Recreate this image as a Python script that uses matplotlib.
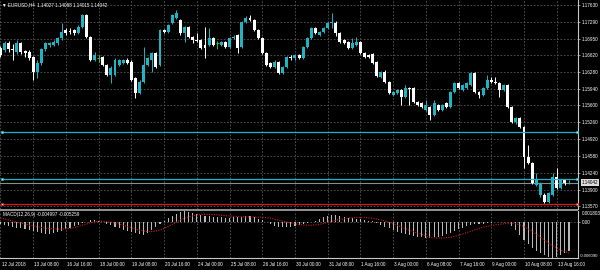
import matplotlib
matplotlib.use('Agg')
import matplotlib.pyplot as plt
from matplotlib.patches import Rectangle
import numpy as np

plt.rcParams['font.family'] = ['Liberation Sans', 'DejaVu Sans']

#chart header texts
symbol_info = 'EURUSD,H4  1.14027 1.14088 1.14015 1.14042'
macd_info = 'MACD(12,26,9) -0.004997 -0.005259'

#H4 candles, 12 Jul 2018 00:00 onwards
opens = [1.1676, 1.1672, 1.1686, 1.1674, 1.1668, 1.1686, 1.1670, 1.1668, 1.1658, 1.1628,
         1.1646, 1.1674, 1.1682, 1.1682, 1.1686, 1.1696, 1.1712, 1.1710, 1.1712, 1.1706,
         1.1718, 1.1743, 1.1698, 1.1652, 1.1656, 1.1658, 1.1642, 1.1622, 1.1622, 1.1642,
         1.1646, 1.1652, 1.1648, 1.1615, 1.1585, 1.1607, 1.1642, 1.1652, 1.1666, 1.1642,
         1.1712, 1.1708, 1.1727, 1.1737, 1.1733, 1.1706, 1.1718, 1.1698, 1.1692, 1.1692,
         1.1682, 1.1682, 1.1696, 1.1686, 1.1682, 1.1688, 1.1678, 1.1696, 1.1702, 1.1678,
         1.1729, 1.1737, 1.1733, 1.1712, 1.1696, 1.1666, 1.1646, 1.1638, 1.1648, 1.1626,
         1.1638, 1.1658, 1.1656, 1.1662, 1.1656, 1.1678, 1.1696, 1.1716, 1.1702, 1.1708,
         1.1716, 1.1727, 1.1727, 1.1706, 1.1692, 1.1688, 1.1676, 1.1682, 1.1688, 1.1666,
         1.1662, 1.1664, 1.1648, 1.1617, 1.1628, 1.1607, 1.1581, 1.1585, 1.1591, 1.1577,
         1.1595, 1.1595, 1.1567, 1.1565, 1.1551, 1.1557, 1.1541, 1.1561, 1.1551, 1.1565,
         1.1557, 1.1587, 1.1605, 1.1591, 1.1595, 1.1601, 1.1626, 1.1587, 1.1581, 1.1595,
         1.1611, 1.1607, 1.1605, 1.1591, 1.1601, 1.1557, 1.1527, 1.1535, 1.1516, 1.1456,
         1.1444, 1.1399, 1.1379, 1.1379, 1.1365, 1.1379, 1.1415, 1.1393, 1.1409, 1.14027]
highs = [1.1680, 1.1690, 1.1690, 1.1684, 1.1692, 1.1688, 1.1672, 1.1672, 1.1660, 1.1652,
         1.1676, 1.1688, 1.1688, 1.1692, 1.1698, 1.1727, 1.1716, 1.1716, 1.1714, 1.1723,
         1.1745, 1.1745, 1.1700, 1.1668, 1.1662, 1.1660, 1.1644, 1.1640, 1.1656, 1.1654,
         1.1654, 1.1656, 1.1652, 1.1617, 1.1611, 1.1678, 1.1658, 1.1668, 1.1668, 1.1714,
         1.1714, 1.1725, 1.1745, 1.1753, 1.1735, 1.1720, 1.1720, 1.1700, 1.1706, 1.1694,
         1.1718, 1.1716, 1.1698, 1.1690, 1.1690, 1.1690, 1.1698, 1.1702, 1.1704, 1.1731,
         1.1741, 1.1743, 1.1735, 1.1714, 1.1698, 1.1668, 1.1648, 1.1652, 1.1650, 1.1640,
         1.1660, 1.1662, 1.1664, 1.1664, 1.1680, 1.1698, 1.1718, 1.1718, 1.1710, 1.1718,
         1.1729, 1.1747, 1.1731, 1.1708, 1.1694, 1.1690, 1.1696, 1.1698, 1.1690, 1.1668,
         1.1664, 1.1666, 1.1650, 1.1630, 1.1632, 1.1609, 1.1589, 1.1593, 1.1593, 1.1601,
         1.1597, 1.1597, 1.1569, 1.1567, 1.1571, 1.1559, 1.1571, 1.1563, 1.1563, 1.1567,
         1.1589, 1.1607, 1.1607, 1.1603, 1.1607, 1.1628, 1.1628, 1.1589, 1.1597, 1.1622,
         1.1617, 1.1617, 1.1607, 1.1603, 1.1603, 1.1559, 1.1537, 1.1537, 1.1518, 1.1480,
         1.1446, 1.1424, 1.1405, 1.1383, 1.1385, 1.1424, 1.1434, 1.1411, 1.1411, 1.14088]
lows = [1.1658, 1.1668, 1.1668, 1.1652, 1.1664, 1.1664, 1.1658, 1.1652, 1.1611, 1.1615,
        1.1642, 1.1670, 1.1678, 1.1680, 1.1682, 1.1692, 1.1702, 1.1704, 1.1702, 1.1704,
        1.1716, 1.1696, 1.1650, 1.1650, 1.1648, 1.1640, 1.1619, 1.1605, 1.1619, 1.1640,
        1.1644, 1.1644, 1.1609, 1.1575, 1.1583, 1.1605, 1.1640, 1.1628, 1.1636, 1.1640,
        1.1706, 1.1706, 1.1725, 1.1735, 1.1702, 1.1688, 1.1696, 1.1686, 1.1688, 1.1674,
        1.1656, 1.1680, 1.1680, 1.1674, 1.1680, 1.1676, 1.1676, 1.1694, 1.1666, 1.1676,
        1.1727, 1.1731, 1.1710, 1.1694, 1.1664, 1.1640, 1.1636, 1.1636, 1.1624, 1.1624,
        1.1636, 1.1652, 1.1652, 1.1654, 1.1654, 1.1676, 1.1694, 1.1704, 1.1700, 1.1706,
        1.1714, 1.1716, 1.1700, 1.1686, 1.1684, 1.1674, 1.1674, 1.1680, 1.1664, 1.1656,
        1.1656, 1.1644, 1.1617, 1.1615, 1.1605, 1.1583, 1.1579, 1.1583, 1.1561, 1.1575,
        1.1561, 1.1565, 1.1559, 1.1555, 1.1549, 1.1531, 1.1539, 1.1549, 1.1549, 1.1555,
        1.1555, 1.1585, 1.1593, 1.1589, 1.1593, 1.1599, 1.1585, 1.1575, 1.1579, 1.1593,
        1.1605, 1.1603, 1.1577, 1.1589, 1.1555, 1.1525, 1.1523, 1.1514, 1.1434, 1.1442,
        1.1401, 1.1397, 1.1375, 1.1363, 1.1363, 1.1377, 1.1391, 1.1391, 1.1399, 1.14015]
closes = [1.1662, 1.1686, 1.1674, 1.1672, 1.1686, 1.1668, 1.1666, 1.1656, 1.1628, 1.1646,
          1.1674, 1.1686, 1.1686, 1.1688, 1.1696, 1.1708, 1.1706, 1.1708, 1.1706, 1.1718,
          1.1743, 1.1698, 1.1652, 1.1662, 1.1656, 1.1642, 1.1622, 1.1636, 1.1652, 1.1652,
          1.1652, 1.1646, 1.1611, 1.1585, 1.1607, 1.1642, 1.1656, 1.1666, 1.1638, 1.1712,
          1.1708, 1.1723, 1.1743, 1.1747, 1.1706, 1.1718, 1.1698, 1.1692, 1.1690, 1.1676,
          1.1676, 1.1696, 1.1682, 1.1686, 1.1688, 1.1678, 1.1696, 1.1698, 1.1676, 1.1729,
          1.1737, 1.1733, 1.1712, 1.1696, 1.1666, 1.1642, 1.1638, 1.1648, 1.1626, 1.1638,
          1.1658, 1.1656, 1.1662, 1.1656, 1.1678, 1.1696, 1.1716, 1.1706, 1.1708, 1.1716,
          1.1727, 1.1729, 1.1706, 1.1688, 1.1686, 1.1676, 1.1686, 1.1688, 1.1666, 1.1658,
          1.1658, 1.1646, 1.1619, 1.1628, 1.1607, 1.1585, 1.1587, 1.1591, 1.1577, 1.1595,
          1.1593, 1.1567, 1.1561, 1.1557, 1.1561, 1.1541, 1.1565, 1.1551, 1.1561, 1.1557,
          1.1587, 1.1605, 1.1595, 1.1601, 1.1605, 1.1626, 1.1587, 1.1581, 1.1595, 1.1611,
          1.1607, 1.1605, 1.1591, 1.1601, 1.1557, 1.1527, 1.1535, 1.1516, 1.1456, 1.1444,
          1.1403, 1.1411, 1.1403, 1.1365, 1.1383, 1.1415, 1.1393, 1.1409, 1.1403, 1.14042]

#MACD main (histogram) and signal (dotted)
macd_main = [-0.00039, -0.00055, -0.00072, -0.00089, -0.00097, -0.00106, -0.00123, -0.00139, -0.00156, -0.00173,
             -0.00190, -0.00198, -0.00198, -0.00190, -0.00173, -0.00148, -0.00123, -0.00097, -0.00072, -0.00047,
             -0.00022, 0.00003, 0.00029, 0.00037, 0.00020, -0.00005, -0.00030, -0.00055, -0.00081, -0.00106,
             -0.00131, -0.00156, -0.00173, -0.00190, -0.00207, -0.00215, -0.00190, -0.00139, -0.00089, -0.00030,
             0.00012, 0.00062, 0.00096, 0.00129, 0.00163, 0.001803, 0.00171, 0.00155, 0.00138, 0.00121,
             0.00104, 0.00096, 0.00087, 0.00079, 0.00079, 0.00071, 0.00071, 0.00079, 0.00079, 0.00087,
             0.00096, 0.00096, 0.00079, 0.00054, 0.00029, -0.00005, -0.00039, -0.00064, -0.00081, -0.00089,
             -0.00089, -0.00081, -0.00072, -0.00055, -0.00039, -0.00027, -0.00010, 0.00007, 0.00040, 0.00074,
             0.00096, 0.00113, 0.00113, 0.00101, 0.00084, 0.00067, 0.00057, 0.00045, 0.00040, 0.00029,
             0.00017, 0.00007, -0.00017, -0.00055, -0.00084, -0.00111, -0.00139, -0.00168, -0.00195, -0.00212,
             -0.00223, -0.00240, -0.00252, -0.00262, -0.00269, -0.00269, -0.00262, -0.00252, -0.00235, -0.00212,
             -0.00185, -0.00156, -0.00128, -0.00101, -0.00072, -0.00055, -0.00044, -0.00039, -0.00039, -0.00027,
             -0.00017, -0.00010, -0.00005, -0.00005, -0.00010, -0.00072, -0.00139, -0.00223, -0.00307, -0.00375,
             -0.00433, -0.00484, -0.00526, -0.00559, -0.00593, -0.00609, -0.00585, -0.00551, -0.00517, -0.004997]
macd_signal = [0.00062, 0.00045, 0.00029, 0.00012, -0.00005, -0.00022, -0.00039, -0.00055, -0.00072, -0.00086,
               -0.00097, -0.00106, -0.00114, -0.00119, -0.00123, -0.00123, -0.00119, -0.00111, -0.00097, -0.00081,
               -0.00060, -0.00039, -0.00018, -0.00002, 0.00007, 0.00008, 0.00003, -0.00008, -0.00022, -0.00039,
               -0.00060, -0.00081, -0.00102, -0.00123, -0.00139, -0.00156, -0.00165, -0.00165, -0.00156, -0.00139,
               -0.00114, -0.00081, -0.00044, -0.00005, 0.00029, 0.00059, 0.00082, 0.00099, 0.00113, 0.00121,
               0.00124, 0.00124, 0.00121, 0.00116, 0.00109, 0.00102, 0.00096, 0.00091, 0.00086, 0.00082,
               0.00081, 0.00079, 0.00079, 0.00079, 0.00076, 0.00069, 0.00059, 0.00045, 0.00029, 0.00012,
               -0.00005, -0.00022, -0.00035, -0.00047, -0.00055, -0.00059, -0.00059, -0.00054, -0.00044, -0.00029,
               -0.00012, 0.00007, 0.00024, 0.00039, 0.00050, 0.00059, 0.00066, 0.00071, 0.00072, 0.00071,
               0.00066, 0.00057, 0.00045, 0.00030, 0.00012, -0.00010, -0.00035, -0.00062, -0.00089, -0.00116,
               -0.00143, -0.00168, -0.00190, -0.00210, -0.00240, -0.00257, -0.00269, -0.00274, -0.00274, -0.00269,
               -0.00260, -0.00245, -0.00227, -0.00207, -0.00183, -0.00160, -0.00136, -0.00114, -0.00094, -0.00077,
               -0.00064, -0.00052, -0.00042, -0.00034, -0.00027, -0.00027, -0.00034, -0.00052, -0.00081, -0.00118,
               -0.00160, -0.00207, -0.00257, -0.00307, -0.00358, -0.00403, -0.00442, -0.00475, -0.00502, -0.005259]

price_ticks = [1.17630, 1.17290, 1.16950, 1.16620, 1.16280, 1.15940, 1.15600,
               1.15260, 1.14920, 1.14580, 1.14240, 1.13900, 1.13570]
time_labels = ['12 Jul 2018', '13 Jul 08:00', '16 Jul 16:00', '18 Jul 00:00', '19 Jul 08:00',
               '20 Jul 16:00', '24 Jul 00:00', '25 Jul 08:00', '26 Jul 16:00', '30 Jul 00:00',
               '31 Jul 08:00', '1 Aug 16:00', '3 Aug 00:00', '6 Aug 08:00', '7 Aug 16:00',
               '9 Aug 00:00', '10 Aug 08:00', '13 Aug 16:00']
cyan_levels = [1.1506, 1.1411]
red_level = 1.1362
bid_price = 1.14042
macd_max, macd_min = 0.001803, -0.006090

bull_col = '#1fb4c4'
bear_col = '#ffffff'
doji_col = '#22c83a'
grid_col = '#585858'
axis_col = '#c8c8c8'
fs = 3.3

W, H = 600.0, 270.0
fig = plt.figure(figsize=(6, 2.7), dpi=100, facecolor='black')
ax = fig.add_axes([0, 1 - 209 / H, 578 / W, 209 / H], facecolor='black')
ax2 = fig.add_axes([0, 1 - 258 / H, 578 / W, 47 / H], facecolor='black')

bars = np.arange(len(closes))
for a in (ax, ax2):
	a.set_xlim(-0.12, 141.2)
	for s in a.spines.values():
		s.set_visible(False)
	a.spines['right'].set_visible(True)
	a.spines['right'].set_color(axis_col)
	a.spines['right'].set_linewidth(0.8)
	a.set_xticks(bars[::8])
	a.tick_params(axis='x', length=0, labelbottom=False)
	a.yaxis.tick_right()
	a.tick_params(axis='y', colors=axis_col, labelcolor='white', labelsize=fs, length=1.5, width=0.5, pad=1.5)
	a.grid(True, color=grid_col, lw=0.6, linestyle=(0, (2, 2)))
	a.set_axisbelow(True)

#main price window
ax.set_ylim(1.13509, 1.17731)
ax.set_yticks(price_ticks)
ax.set_yticklabels(['%.5f' % p for p in price_ticks])

ax.axhline(bid_price, color='#8c8c8c', lw=0.8, zorder=1)
for i in bars:
	o, h, l, c = opens[i], highs[i], lows[i], closes[i]
	if c > o:
		col = bull_col
	elif c < o:
		col = bear_col
	else:
		col = doji_col
	ax.vlines(i, l, h, color=col, lw=0.7, zorder=2)
	if c == o:
		ax.hlines(c, i - 0.36, i + 0.36, color=col, lw=0.7, zorder=2)
	else:
		ax.bar(i, abs(c - o), bottom=min(o, c), width=0.72, color=col, lw=0, zorder=3)

for lvl in cyan_levels:
	ax.plot([0.37, 140.9], [lvl, lvl], color=bull_col, lw=0.9, marker='s', ms=2.0,
		mfc='#9fefff', mec=bull_col, mew=0.5, clip_on=False, zorder=4)
ax.plot([0.37, 140.9], [red_level, red_level], color='#e01414', lw=0.9, marker='s', ms=2.0,
	mfc='#ffd0d0', mec='#e01414', mew=0.5, clip_on=False, zorder=4)

ax.text(1.0 + 4 / 578, bid_price, '%.5f' % bid_price, transform=ax.get_yaxis_transform(),
	ha='left', va='center', fontsize=fs, color='black',
	bbox=dict(boxstyle='square,pad=0.15', fc='#dcdcdc', ec='none'), clip_on=False)

fig.text(2 / W, 1 - 4.5 / H, '\u25bc ' + symbol_info, fontsize=fs, color='white', va='center', ha='left')

#MACD window
ax2.set_ylim(macd_min, macd_max)
ax2.bar(bars, macd_main, width=0.26, color='#b8b8b8', lw=0, zorder=2)
ax2.plot(bars, macd_signal, color='#d01818', lw=0.8, linestyle=(0, (1, 1.2)), zorder=3)
ax2.set_yticks([0])
ax2.set_yticklabels(['0.00'])
ax2.spines['bottom'].set_visible(True)
ax2.spines['bottom'].set_color(axis_col)
ax2.spines['bottom'].set_linewidth(0.8)
ax2.text(1.0 + 4 / 578, 1.0, '%.6f' % macd_max, transform=ax2.transAxes, ha='left', va='top',
	fontsize=fs, color='white')
ax2.text(1.0 + 2 / 578, 0.0, '%.6f' % macd_min, transform=ax2.transAxes, ha='left', va='bottom',
	fontsize=3.0, color='white')
fig.text(3 / W, 1 - 214.5 / H, macd_info, fontsize=fs, color='white', va='center', ha='left')

#time axis labels, one every 8 bars
for k, lab in enumerate(time_labels):
	ax2.text(bars[k * 8] + 0.25, -0.13, lab, transform=ax2.get_xaxis_transform(),
		ha='left', va='center', fontsize=fs, color='white', clip_on=False)

#window separator
fig.patches.append(Rectangle((0, 1 - 211 / H), 578 / W, 2 / H, transform=fig.transFigure,
	facecolor='#8e8e8e', edgecolor='none'))

fig.savefig('out.png', dpi=100, facecolor='black')
